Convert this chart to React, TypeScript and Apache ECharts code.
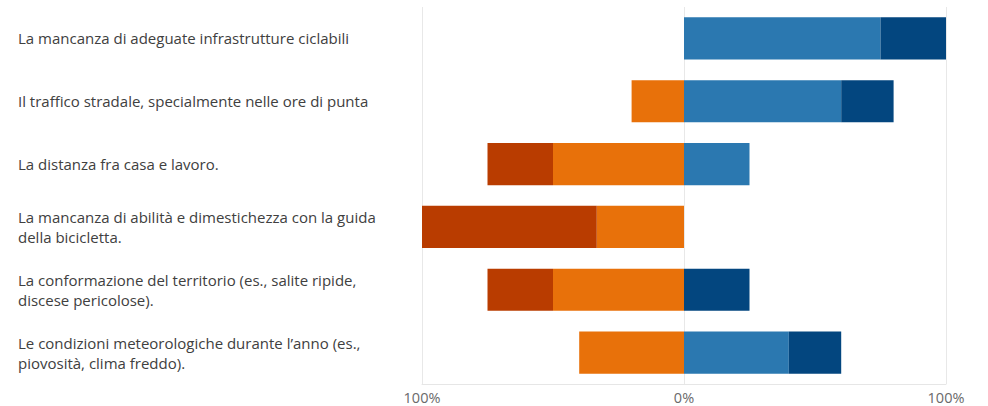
import React, { useEffect, useRef } from "react";
import * as echarts from "echarts";

const categories = [
  "La mancanza di adeguate infrastrutture ciclabili",
  "Il traffico stradale, specialmente nelle ore di punta",
  "La distanza fra casa e lavoro.",
  "La mancanza di abilità e dimestichezza con la guida\ndella bicicletta.",
  "La conformazione del territorio (es., salite ripide,\ndiscese pericolose).",
  "Le condizioni meteorologiche durante l’anno (es.,\npiovosità, clima freddo).",
];

const perNiente = [0, 0, -25, -66.7, -25, 0];
const poco = [0, -20, -50, -33.3, -50, -40];
const abbastanza = [75, 60, 25, 0, 0, 40];
const molto = [25, 20, 0, 0, 25, 20];

const xTicks = [-100, 0, 100];

export default function App() {
  const ref = useRef<HTMLDivElement>(null);
  useEffect(() => {
    const chart = echarts.init(ref.current!, undefined, { renderer: "svg" });
    const fontFamily = "'Open Sans', 'Noto Sans', sans-serif";
    const mk = (name: string, data: number[], color: string, stack: string) => ({
      name,
      type: "bar" as const,
      stack,
      data,
      barCategoryGap: "33%",
      itemStyle: { color },
    });
    chart.setOption({
      animation: false,
      textStyle: { fontFamily },
      grid: { left: 422, right: 42, top: 7, bottom: 22, containLabel: false },
      xAxis: {
        type: "value",
        min: xTicks[0],
        max: xTicks[xTicks.length - 1],
        interval: 100,
        axisLine: { show: true, lineStyle: { color: "#e6e6e6" } },
        axisTick: { show: false },
        splitLine: { show: true, lineStyle: { color: "#e8e8e8" } },
        axisLabel: {
          color: "#6a6a6a",
          fontSize: 14.5,
          margin: 6,
          fontFamily,
          formatter: (v: number) => Math.abs(v) + "%",
        },
      },
      yAxis: {
        type: "category",
        data: categories,
        inverse: true,
        axisLine: { show: false },
        axisTick: { show: false },
        splitLine: { show: false },
        axisLabel: {
          align: "left",
          margin: 404,
          color: "#404040",
          fontSize: 15,
          lineHeight: 20,
          fontFamily,
        },
      },
      series: [
        mk("Poco", poco, "#e8710a", "s"),
        mk("Per niente", perNiente, "#b93c00", "s"),
        mk("Abbastanza", abbastanza, "#2b78b0", "s"),
        mk("Molto", molto, "#03467f", "s"),
      ],
    });
    return () => chart.dispose();
  }, []);
  return (
    <div
      ref={ref}
      style={{ position: "fixed", left: 0, top: 0, width: 988, height: 406, background: "#fff" }}
    />
  );
}
